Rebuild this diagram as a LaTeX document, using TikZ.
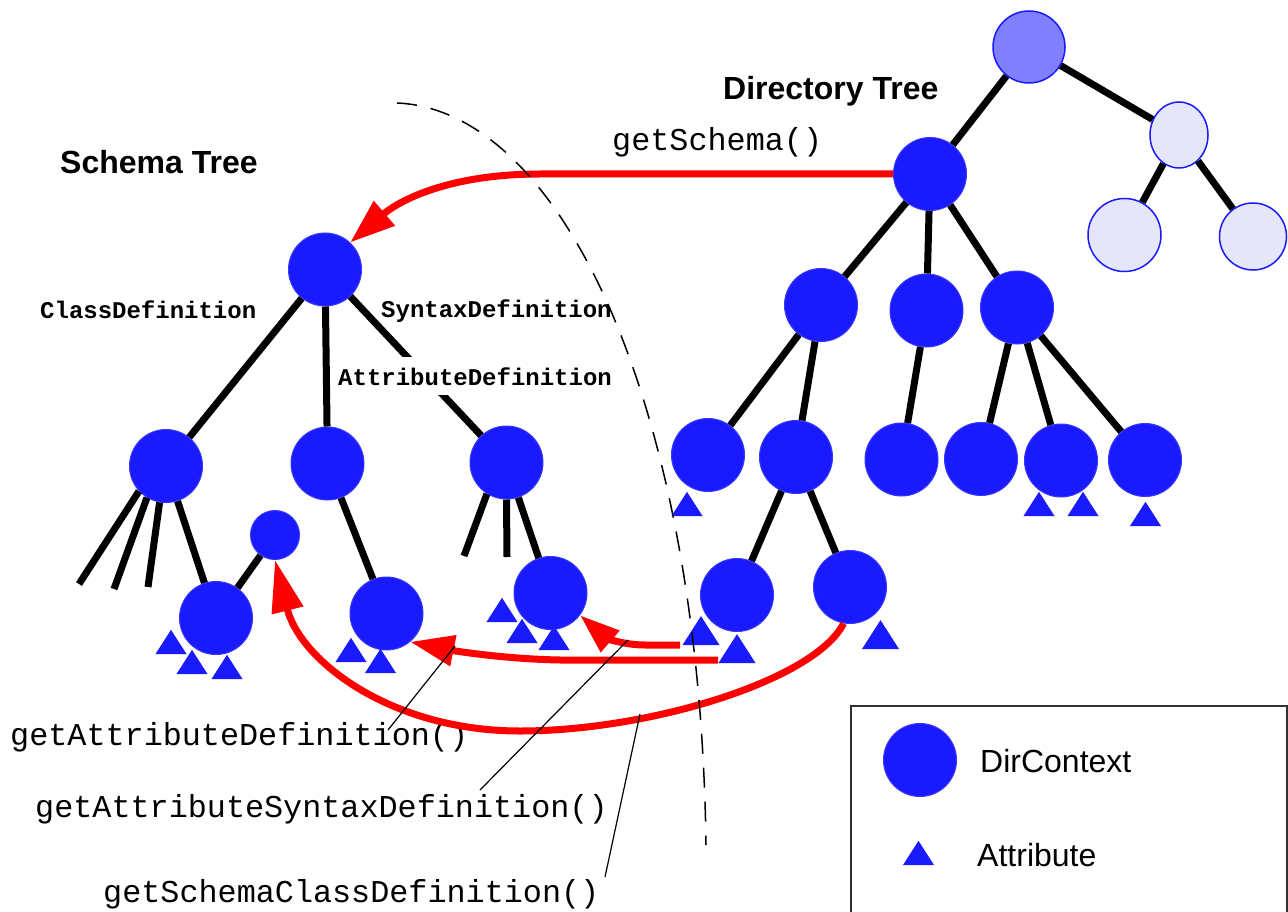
\documentclass[tikz,border=0pt]{standalone}
\usepackage{fontspec}
\setmainfont{Liberation Sans}
\newfontfamily\monof{Liberation Mono}
\usetikzlibrary{arrows.meta,shapes.geometric}
\definecolor{nodeblue}{RGB}{26,26,255}
\definecolor{nodeedge}{RGB}{55,55,255}
\definecolor{rootblue}{RGB}{128,128,255}
\definecolor{lav}{RGB}{230,230,250}
\definecolor{boxgray}{RGB}{50,50,50}
\newcommand\attrtri[3]{\fill[nodeblue] ({#1-#3/2},#2) -- ({#1+#3/2},#2) -- (#1,{#2-0.78*#3}) -- cycle;}
\begin{document}
\begin{tikzpicture}[x=1pt,y=-1pt,
  ctx/.style={circle,fill=nodeblue,draw=nodeedge,line width=1pt,minimum size=73pt,inner sep=0pt},
  rootctx/.style={circle,fill=rootblue,draw=nodeblue,line width=1.5pt,minimum size=72pt,inner sep=0pt},
  lavctx/.style={circle,fill=lav,draw=nodeblue,line width=1.5pt,minimum size=71pt,inner sep=0pt},
  edge/.style={line width=7pt,black},
  redline/.style={draw=red,line width=7pt},
  ptr/.style={line width=1.2pt,black},
  title/.style={font=\fontsize{32}{38}\selectfont\bfseries,anchor=base west,inner sep=0pt},
  legtext/.style={font=\fontsize{32}{38}\selectfont,anchor=base west,inner sep=0pt},
  method/.style={font=\monof\fontsize{31.8}{38}\selectfont,anchor=base west,inner sep=0pt},
  deflabel/.style={font=\monof\bfseries\fontsize{24}{28}\selectfont,anchor=base west,inner sep=0pt},
]
\clip (0,0) rectangle (1288,912);
\fill[white] (0,0) rectangle (1288,912);

% ---------- Directory tree nodes ----------
\node[rootctx] (dr) at (1029,47) {};
\node[lavctx,ellipse,minimum width=58pt,minimum height=66pt] (d1) at (1179,135) {};
\node[lavctx,minimum size=73pt] (d1a) at (1124.5,235) {};
\node[lavctx,minimum size=67pt] (d1b) at (1253,236.5) {};
\node[ctx] (dd) at (930,174) {};
\node[ctx] (c1) at (821,305) {};
\node[ctx] (c2) at (926.5,310.5) {};
\node[ctx] (c3) at (1017,307.5) {};
\node[ctx] (c1a) at (708,455) {};
\node[ctx] (c1b) at (796,457) {};
\node[ctx] (c1b1) at (737,595) {};
\node[ctx] (c1b2) at (850,587) {};
\node[ctx] (c2a) at (901.5,459.5) {};
\node[ctx] (c3a) at (981,459) {};
\node[ctx] (c3b) at (1061,460.5) {};
\node[ctx] (c3c) at (1145,460) {};

% ---------- Schema tree nodes ----------
\node[ctx] (sr) at (325,269.5) {};
\node[ctx] (sa) at (166,466) {};
\node[ctx] (sb) at (327.5,463.5) {};
\node[ctx] (sc) at (506.5,462.5) {};
\node[ctx] (sa1) at (216,618) {};
\node[ctx,minimum size=49pt] (sm) at (275,535) {};
\node[ctx] (sb1) at (386.5,613.5) {};
\node[ctx] (sc1) at (550.5,593) {};

% ---------- edges ----------
\draw[edge] (dr) -- (dd);
\draw[edge] (dr) -- (d1);
\draw[edge] (d1) -- (d1a);
\draw[edge] (d1) -- (d1b);
\draw[edge] (dd) -- (c1);
\draw[edge] (dd) -- (c2);
\draw[edge] (dd) -- (c3);
\draw[edge] (c1) -- (c1a);
\draw[edge] (c1) -- (c1b);
\draw[edge] (c1b) -- (c1b1);
\draw[edge] (c1b) -- (c1b2);
\draw[edge] (c2) -- (c2a);
\draw[edge] (c3) -- (c3a);
\draw[edge] (c3) -- (c3b);
\draw[edge] (c3) -- (c3c);

\draw[edge] (sr) -- (sa);
\draw[edge] (sr) -- (sb);
\draw[edge] (sr) -- (sc);
\draw[edge] (sa1) -- (sm);
\draw[edge] (sa) -- (sa1);
\draw[edge] (sb) -- (sb1);
\draw[edge] (sc) -- (sc1);
\coordinate (st1) at (79,584);
\coordinate (st2) at (114,589);
\coordinate (st3) at (148,587);
\coordinate (st4) at (464,556);
\coordinate (st5) at (507,557);
\draw[edge] (sa.223) -- (st1);
\draw[edge] (sa.239) -- (st2);
\draw[edge] (sa.260) -- (st3);
\draw[edge] (sc.238) -- (st4);
\draw[edge] (sc.south) -- (st5);

% ---------- labels ----------
\node[title] (dtitle) at (723,100) {Directory Tree};
\node[title] (stitle) at (60,174) {Schema Tree};
\node[method] (mgs) at (612,151) {getSchema()};
\node[deflabel] (lcd) at (40,318) {ClassDefinition};
\node[deflabel] (lsd) at (381,317) {SyntaxDefinition};
\node[deflabel,fill=white,inner xsep=2pt,inner ysep=10pt] (lad) at (336,385) {AttributeDefinition};
\node[method] (mad) at (10,745) {getAttributeDefinition()};
\node[method] (masd) at (35,817) {getAttributeSyntaxDefinition()};
\node[method] (mscd) at (103,902) {getSchemaClassDefinition()};

% ---------- red arrows ----------
\draw[redline,-{Triangle[length=45pt,width=31pt]}] (dd.west) -- (540,174) .. controls (450,174) and (400,200) .. (sr.47);
\coordinate (a2s) at (718,660);
\draw[redline,-{Triangle[length=44pt,width=30pt]}] (a2s) -- (560,660) .. controls (505,659) and (455,651) .. (sb1.-50);
\coordinate (a3s) at (680,645);
\draw[redline,-{Triangle[length=40pt,width=27pt]}] (a3s) -- (645,645) .. controls (622,645) and (605,637) .. (sc1.-37);
\draw[redline,-{Triangle[length=52pt,width=31pt]}] (c1b2.260) .. controls (815,680) and (650,731) .. (520,731) .. controls (390,731) and (300,660) .. (sm.south);

% ---------- attributes ----------
\attrtri{171}{654}{31}
\attrtri{192}{674}{31}
\attrtri{227}{679}{31}
\attrtri{351}{662}{31}
\attrtri{380.5}{673}{31}
\attrtri{502}{622}{31}
\attrtri{522}{643}{31}
\attrtri{554}{650}{31}
\attrtri{687}{516}{31}
\attrtri{701}{645}{37}
\attrtri{737}{663}{37}
\attrtri{880.5}{649}{37}
\attrtri{1039}{516}{31}
\attrtri{1083}{516}{31}
\attrtri{1145.5}{526}{31}

% ---------- dashed boundary ----------
\draw[line width=1.5pt,dash pattern=on 20pt off 14pt] (397,103) .. controls (560,110) and (700,400) .. (706,845);

% ---------- pointer lines ----------
\coordinate (p1a) at (388,730);
\coordinate (p1b) at (455,646);
\coordinate (p2a) at (480,790);
\coordinate (p2b) at (628,640);
\coordinate (p3a) at (605,877);
\coordinate (p3b) at (640,714);
\draw[ptr] (p1a) -- (p1b);
\draw[ptr] (p2a) -- (p2b);
\draw[ptr] (p3a) -- (p3b);

% ---------- legend ----------
\draw[line width=1.5pt,boxgray] (851,706) rectangle (1287,930);
\node[ctx] (lgc) at (920,760) {};
\node[legtext] (lgt1) at (980,772) {DirContext};
\attrtri{918.5}{865}{31}
\node[legtext] (lgt2) at (977,866) {Attribute};
\end{tikzpicture}
\end{document}
